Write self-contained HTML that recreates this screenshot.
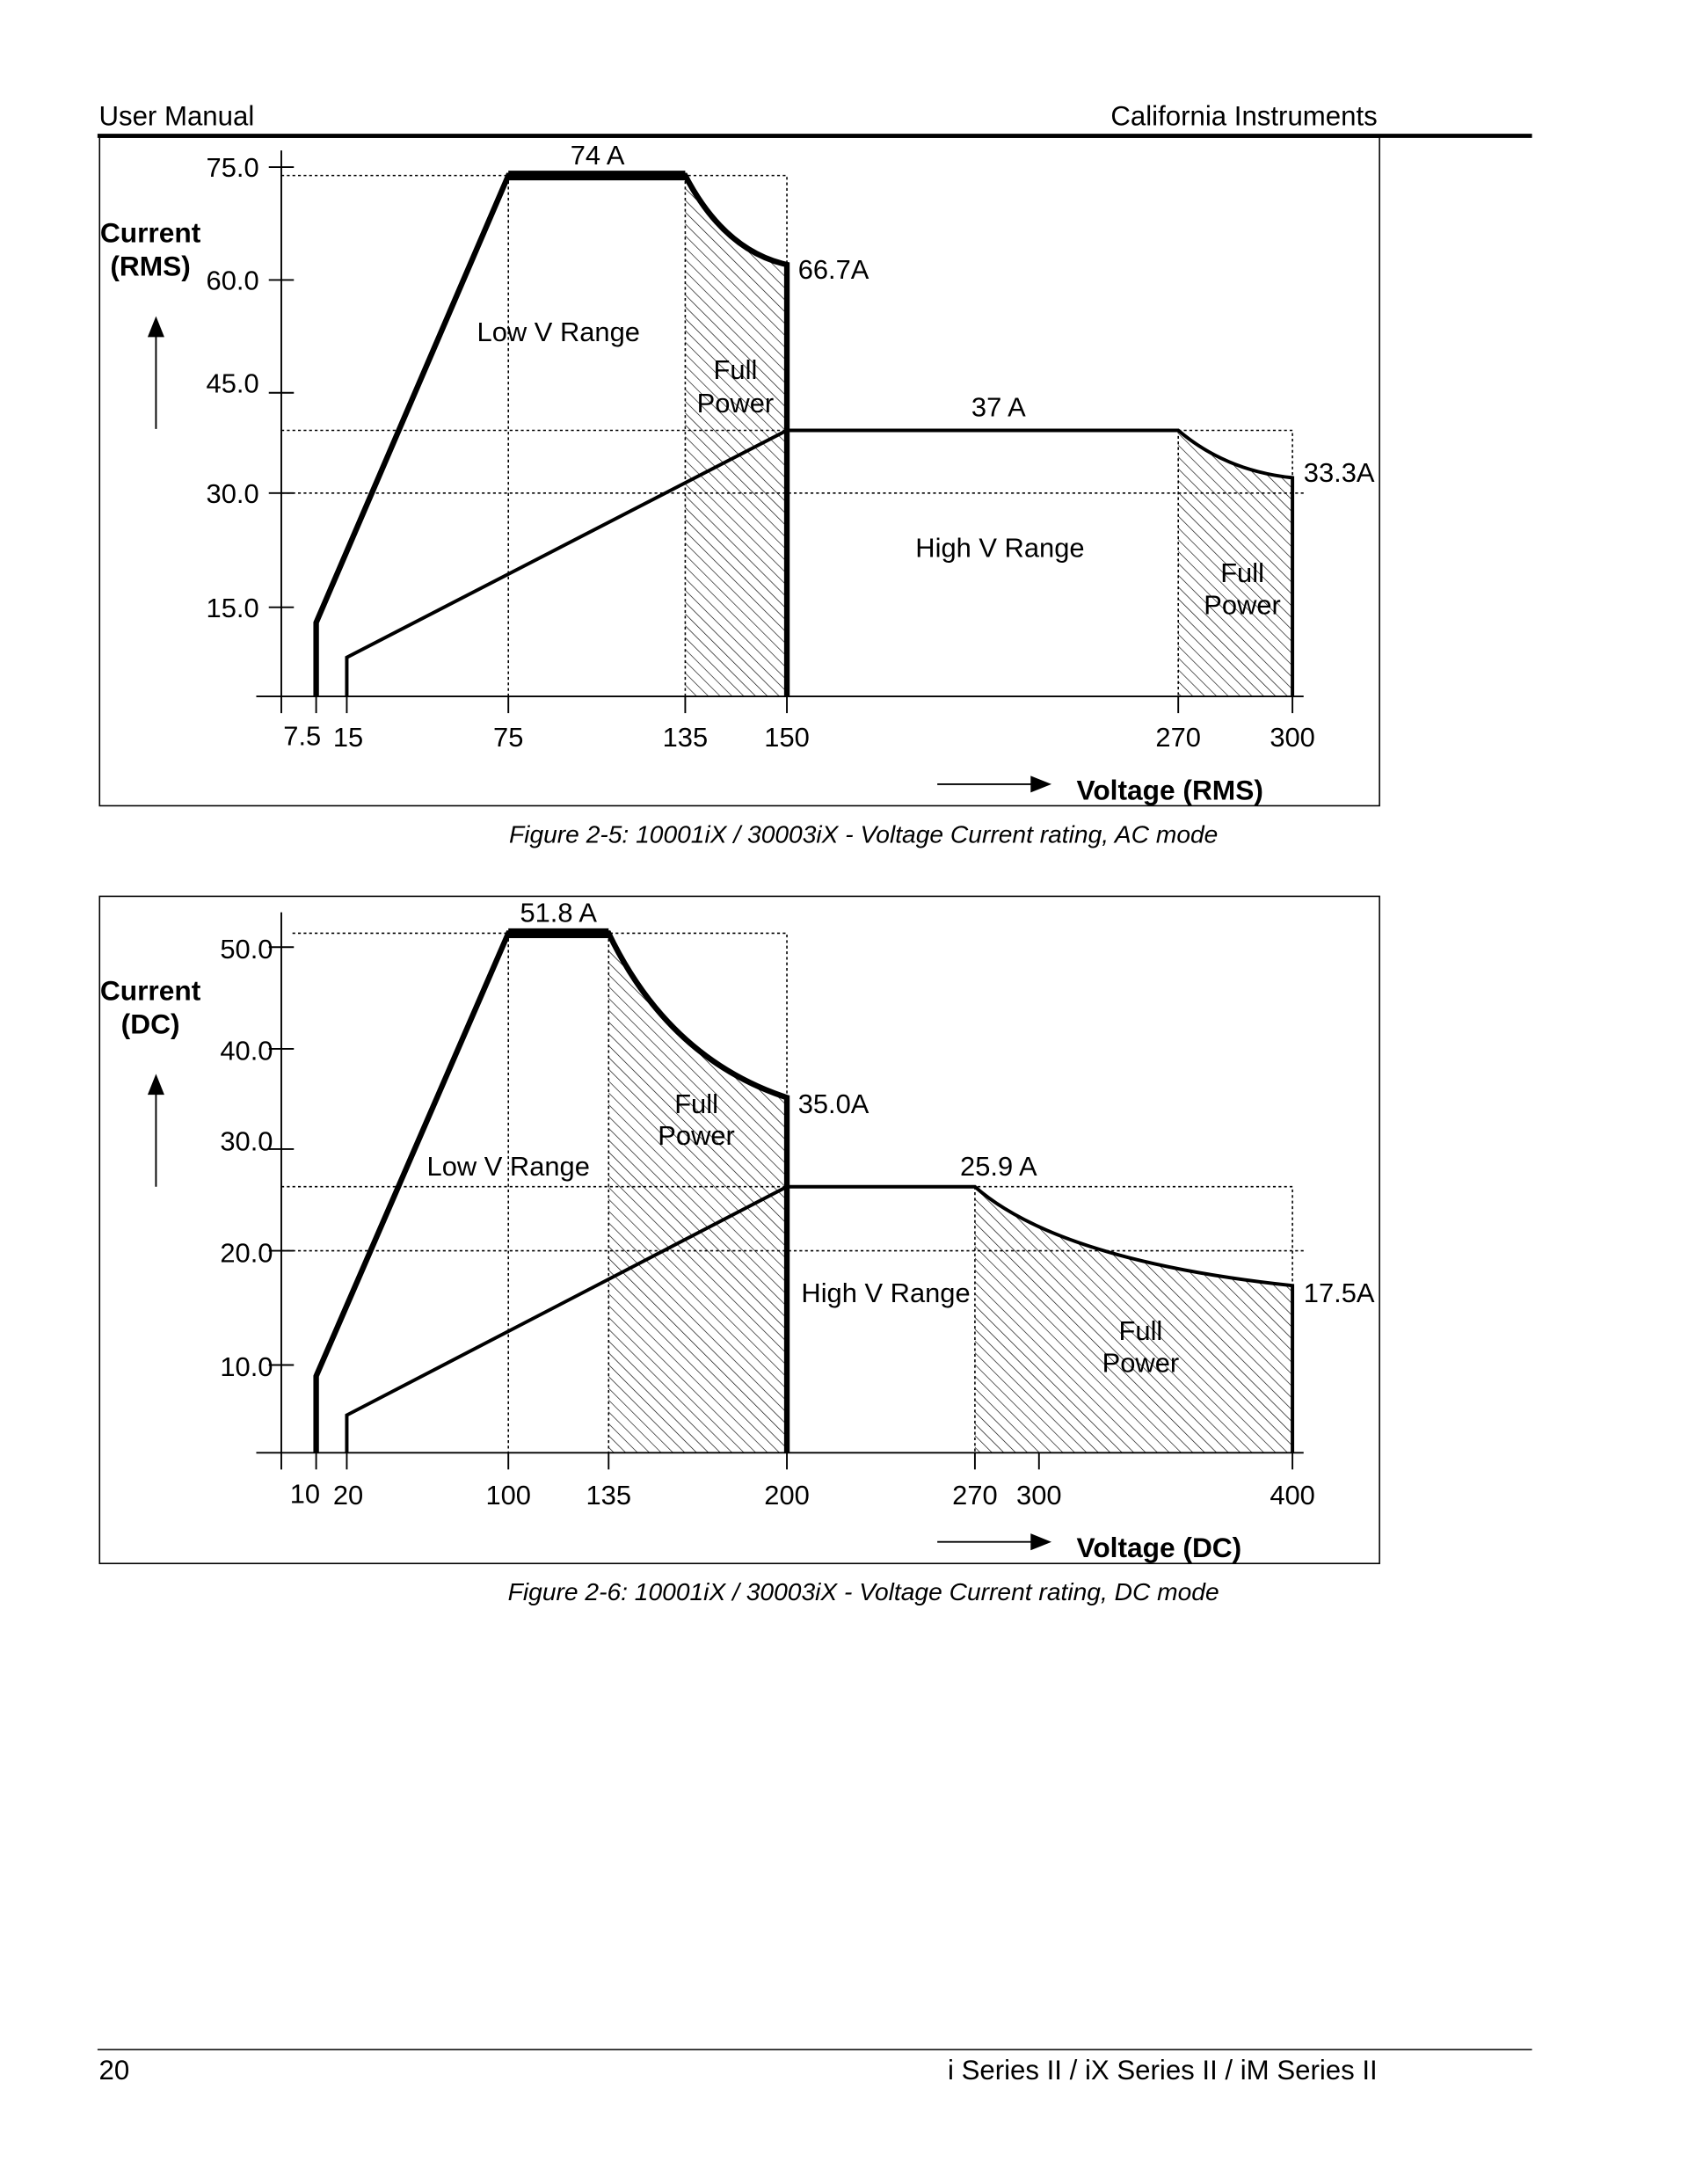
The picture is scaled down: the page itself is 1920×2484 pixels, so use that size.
<!DOCTYPE html>
<html><head><meta charset="utf-8"><style>
html,body{margin:0;padding:0;background:#fff}
svg{display:block}
text{font-family:"Liberation Sans",sans-serif;fill:#000}
</style></head><body>
<svg width="1920" height="2484" viewBox="0 0 1212 1568" preserveAspectRatio="none" xmlns="http://www.w3.org/2000/svg">
<defs>
<pattern id="h" patternUnits="userSpaceOnUse" width="6" height="6" patternTransform="rotate(-45)">
<line x1="0" y1="0" x2="0" y2="6" stroke="#000" stroke-width="0.8"/>
</pattern>
</defs>
<!-- header -->
<text x="71" y="90" font-size="19.7">User Manual</text>
<text x="989" y="90" font-size="19.7" text-anchor="end">California Instruments</text>
<line x1="70" y1="97.5" x2="1100" y2="97.5" stroke="#000" stroke-width="3"/>

<!-- chart 1 -->
<rect x="71.5" y="98.5" width="919" height="480" fill="none" stroke="#000" stroke-width="1"/>
<path d="M492,126 Q520,180 565,190 L565,500 L492,500Z" fill="url(#h)"/>
<path d="M846,309 Q880,338 928,343 L928,500 L846,500Z" fill="url(#h)"/>
<g stroke="#000" stroke-width="1" stroke-dasharray="2,2" fill="none">
<path d="M202,126H565V500M365,126V500M492,126V500M202,309H928V500M846,309V500M202,354H936"/>
</g>
<g stroke="#000" stroke-width="1.2">
<line x1="202" y1="108" x2="202" y2="512"/>
<line x1="184" y1="500" x2="936" y2="500"/>
<line x1="193" y1="120" x2="211" y2="120"/><line x1="193" y1="201" x2="211" y2="201"/>
<line x1="193" y1="282" x2="211" y2="282"/><line x1="193" y1="354" x2="211" y2="354"/>
<line x1="193" y1="436" x2="211" y2="436"/>
<line x1="227" y1="500" x2="227" y2="512"/><line x1="249" y1="500" x2="249" y2="512"/>
<line x1="365" y1="500" x2="365" y2="512"/><line x1="492" y1="500" x2="492" y2="512"/>
<line x1="565" y1="500" x2="565" y2="512"/><line x1="846" y1="500" x2="846" y2="512"/>
<line x1="928" y1="500" x2="928" y2="512"/>
</g>
<path d="M227,500V447L365,126H492Q520,180 565,190V500" fill="none" stroke="#000" stroke-width="4"/>
<line x1="365" y1="126" x2="492" y2="126" stroke="#000" stroke-width="7"/>
<path d="M249,500V472L565,309H846Q880,338 928,343V500" fill="none" stroke="#000" stroke-width="2.5"/>
<g font-size="19.5" text-anchor="end"><text x="186" y="127">75.0</text><text x="186" y="208">60.0</text><text x="186" y="282">45.0</text><text x="186" y="361">30.0</text><text x="186" y="443">15.0</text></g>
<g font-size="19.5" text-anchor="middle"><text x="217" y="535">7.5</text><text x="250" y="536">15</text><text x="365" y="536">75</text><text x="492" y="536">135</text><text x="565" y="536">150</text><text x="846" y="536">270</text><text x="928" y="536">300</text></g>
<g font-size="19.5"><text x="429" y="118" text-anchor="middle">74 A</text><text x="573" y="200">66.7A</text>
<text x="401" y="245" text-anchor="middle">Low V Range</text><text x="528" y="272" text-anchor="middle">Full</text><text x="528" y="296" text-anchor="middle">Power</text>
<text x="717" y="299" text-anchor="middle">37 A</text><text x="936" y="346">33.3A</text><text x="718" y="400" text-anchor="middle">High V Range</text>
<text x="892" y="418" text-anchor="middle">Full</text><text x="892" y="441" text-anchor="middle">Power</text></g>
<g font-size="20" font-weight="bold" text-anchor="middle"><text x="108" y="174">Current</text><text x="108" y="198">(RMS)</text></g>
<line x1="112" y1="308" x2="112" y2="238" stroke="#000" stroke-width="1.2"/><path d="M106,242L112,227L118,242Z"/>
<line x1="673" y1="563" x2="742" y2="563" stroke="#000" stroke-width="1.2"/><path d="M740,557L755,563L740,569Z"/>
<text x="773" y="574" font-size="20" font-weight="bold">Voltage (RMS)</text>
<text x="620" y="605" font-size="17.8" font-style="italic" text-anchor="middle">Figure 2-5: 10001iX / 30003iX - Voltage Current rating, AC mode</text>

<!-- chart 2 -->
<rect x="71.5" y="643.5" width="919" height="479" fill="none" stroke="#000" stroke-width="1"/>
<path d="M437,670 Q480,760 565,788 L565,1043 L437,1043Z" fill="url(#h)"/>
<path d="M700,852 Q760,905 928,923 L928,1043 L700,1043Z" fill="url(#h)"/>
<g stroke="#000" stroke-width="1" stroke-dasharray="2,2" fill="none">
<path d="M210,670H565V1043M365,670V1043M437,670V1043M202,852H928V1043M700,852V1043M202,898H936"/>
</g>
<g stroke="#000" stroke-width="1.2">
<line x1="202" y1="655" x2="202" y2="1055"/>
<line x1="184" y1="1043" x2="936" y2="1043"/>
<line x1="193" y1="680" x2="211" y2="680"/><line x1="193" y1="753" x2="211" y2="753"/>
<line x1="193" y1="825" x2="211" y2="825"/><line x1="193" y1="898" x2="211" y2="898"/>
<line x1="193" y1="980" x2="211" y2="980"/>
<line x1="227" y1="1043" x2="227" y2="1055"/><line x1="249" y1="1043" x2="249" y2="1055"/>
<line x1="365" y1="1043" x2="365" y2="1055"/><line x1="437" y1="1043" x2="437" y2="1055"/>
<line x1="565" y1="1043" x2="565" y2="1055"/><line x1="700" y1="1043" x2="700" y2="1055"/>
<line x1="746" y1="1043" x2="746" y2="1055"/><line x1="928" y1="1043" x2="928" y2="1055"/>
</g>
<path d="M227,1043V988L365,670H437Q480,760 565,788V1043" fill="none" stroke="#000" stroke-width="4"/>
<line x1="365" y1="670" x2="437" y2="670" stroke="#000" stroke-width="7"/>
<path d="M249,1043V1016L565,852H700Q760,905 928,923V1043" fill="none" stroke="#000" stroke-width="2.5"/>
<g font-size="19.5" text-anchor="end"><text x="196" y="688">50.0</text><text x="196" y="761">40.0</text><text x="196" y="826">30.0</text><text x="196" y="906">20.0</text><text x="196" y="988">10.0</text></g>
<g font-size="19.5" text-anchor="middle"><text x="219" y="1079">10</text><text x="250" y="1080">20</text><text x="365" y="1080">100</text><text x="437" y="1080">135</text><text x="565" y="1080">200</text><text x="700" y="1080">270</text><text x="746" y="1080">300</text><text x="928" y="1080">400</text></g>
<g font-size="19.5"><text x="401" y="662" text-anchor="middle">51.8 A</text><text x="573" y="799">35.0A</text>
<text x="500" y="799" text-anchor="middle">Full</text><text x="500" y="822" text-anchor="middle">Power</text>
<text x="365" y="844" text-anchor="middle">Low V Range</text><text x="717" y="844" text-anchor="middle">25.9 A</text>
<text x="636" y="935" text-anchor="middle">High V Range</text><text x="936" y="935">17.5A</text>
<text x="819" y="962" text-anchor="middle">Full</text><text x="819" y="985" text-anchor="middle">Power</text></g>
<g font-size="20" font-weight="bold" text-anchor="middle"><text x="108" y="718">Current</text><text x="108" y="742">(DC)</text></g>
<line x1="112" y1="852" x2="112" y2="782" stroke="#000" stroke-width="1.2"/><path d="M106,786L112,771L118,786Z"/>
<line x1="673" y1="1107" x2="742" y2="1107" stroke="#000" stroke-width="1.2"/><path d="M740,1101L755,1107L740,1113Z"/>
<text x="773" y="1118" font-size="20" font-weight="bold">Voltage (DC)</text>
<text x="620" y="1149" font-size="17.8" font-style="italic" text-anchor="middle">Figure 2-6: 10001iX / 30003iX - Voltage Current rating, DC mode</text>

<!-- footer -->
<line x1="70" y1="1471.5" x2="1100" y2="1471.5" stroke="#000" stroke-width="1"/>
<text x="71" y="1493" font-size="19.7">20</text>
<text x="989" y="1493" font-size="19.7" text-anchor="end">i Series II / iX Series II / iM Series II</text>
</svg>
</body></html>
